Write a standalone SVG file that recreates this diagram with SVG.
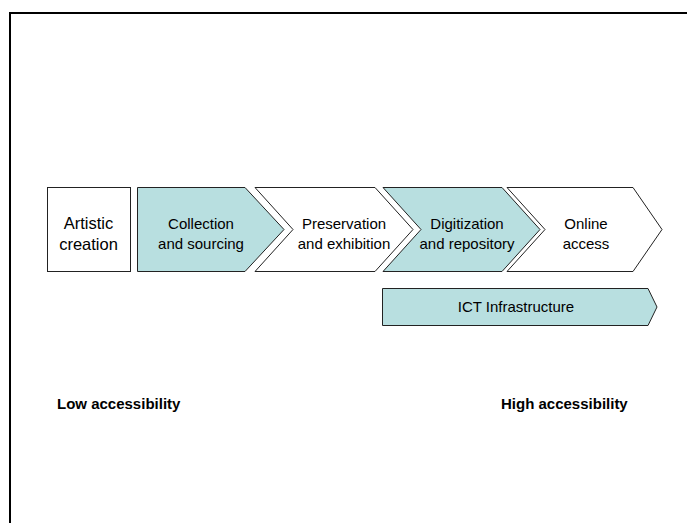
<svg xmlns="http://www.w3.org/2000/svg" width="687" height="523" viewBox="0 0 687 523">
<style>
.sh{stroke:#222;stroke-width:1}
.blue{fill:#b8dfe0}
.white{fill:#fff}
.t{font-family:"Liberation Sans",Arial,sans-serif;fill:#000;text-anchor:middle;font-size:15px}
.lbl{font-family:"Liberation Sans",Arial,sans-serif;font-weight:bold;font-size:15px;fill:#000}
</style>
<rect width="687" height="523" fill="#fff"/>
<rect x="10" y="13" width="700" height="540" fill="none" stroke="#000" stroke-width="2"/>
<g id="artistic-creation">
<rect class="sh white" x="47.5" y="187.5" width="83" height="84"/>
<text class="t" style="font-size:16.5px" x="88.5" y="229">Artistic</text>
<text class="t" style="font-size:16.5px" x="88.5" y="250">creation</text>
</g>
<g id="collection">
<polygon class="sh blue" points="137.5,187.5 245,187.5 284,229.5 245,271.5 137.5,271.5"/>
<text class="t" x="201" y="229">Collection</text>
<text class="t" x="201" y="249">and sourcing</text>
</g>
<g id="preservation">
<polygon class="sh white" points="255,187.5 375,187.5 413,229.5 375,271.5 255,271.5 293,229.5"/>
<text class="t" x="344" y="229">Preservation</text>
<text class="t" x="344" y="249">and exhibition</text>
</g>
<g id="digitization">
<polygon class="sh blue" points="383,187.5 502,187.5 540,229.5 502,271.5 383,271.5 421,229.5"/>
<text class="t" x="467" y="229">Digitization</text>
<text class="t" x="467" y="249">and repository</text>
</g>
<g id="online">
<polygon class="sh white" points="507,187.5 633,187.5 662,229.5 633,271.5 507,271.5 545,229.5"/>
<text class="t" x="586" y="229">Online</text>
<text class="t" x="586" y="249">access</text>
</g>
<g id="ict">
<polygon class="sh blue" points="382.5,288.5 648,288.5 657,307 648,325.5 382.5,325.5"/>
<text class="t" x="516" y="312">ICT Infrastructure</text>
</g>
<g id="labels">
<text class="lbl" x="57" y="409">Low accessibility</text>
<text class="lbl" x="501" y="409">High accessibility</text>
</g>
<g id="connectors"></g>
</svg>
